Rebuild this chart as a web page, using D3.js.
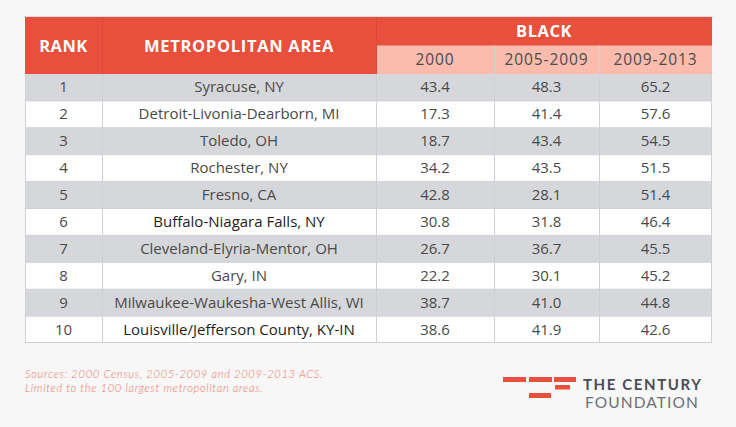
<!DOCTYPE html>
<html><head><meta charset="utf-8">
<script src="https://cdn.jsdelivr.net/npm/d3@7"></script>
<style>
html,body{margin:0;padding:0;background:#f7f7f7;}
svg{display:block;}
</style></head>
<body><svg id="c" width="736" height="427"></svg>
<script>
const ranks = [1,2,3,4,5,6,7,8,9,10];
const areas = ["Syracuse, NY","Detroit-Livonia-Dearborn, MI","Toledo, OH","Rochester, NY","Fresno, CA","Buffalo-Niagara Falls, NY","Cleveland-Elyria-Mentor, OH","Gary, IN","Milwaukee-Waukesha-West Allis, WI","Louisville/Jefferson County, KY-IN"];
const v2000 = [43.4,17.3,18.7,34.2,42.8,30.8,26.7,22.2,38.7,38.6];
const v0509 = [48.3,41.4,43.4,43.5,28.1,31.8,36.7,30.1,41.0,41.9];
const v0913 = [65.2,57.6,54.5,51.5,51.4,46.4,45.5,45.2,44.8,42.6];
const periods = ["2000","2005-2009","2009-2013"];
const groupTitle = "BLACK";
const headRank = "RANK", headArea = "METROPOLITAN AREA";
const notes = ["Sources: 2000 Census,  2005-2009 and 2009-2013 ACS.","Limited to the 100 largest metropolitan areas."];

const svg = d3.select("#c");
const red = "#e94f3d", salmon = "#fbbcae", grayRow = "#d6d7db", grid = "#d0d1d5", txt = "#4a4a4a";
const font = "'Open Sans', sans-serif";
const lato = "Lato, sans-serif";

// column edges
const colEdges = [25,102,376,494,599,712];
const topY = 17, bandSplit = 45.5, headBottom = 74, bottomY = 343;
const y = d3.scaleBand().domain(ranks).range([headBottom, bottomY]).padding(0);

// header
svg.append("rect").attr("x",25).attr("y",topY).attr("width",712-25).attr("height",headBottom-topY).attr("fill",red);
svg.append("rect").attr("x",colEdges[2]).attr("y",bandSplit).attr("width",712-colEdges[2]).attr("height",headBottom-bandSplit).attr("fill",salmon);

// rows
const rows = ranks.map((r,i)=>({rank:r, area:areas[i], vals:[v2000[i],v0509[i],v0913[i]]}));
svg.selectAll("rect.row").data(rows).enter().append("rect").attr("class","row")
  .attr("x",25).attr("y",d=>y(d.rank)).attr("width",712-25).attr("height",y.bandwidth())
  .attr("fill",(d,i)=> i%2===0 ? grayRow : "#ffffff");

// grid lines
const g = svg.append("g").attr("stroke",grid).attr("stroke-width",1).attr("fill","none");
ranks.slice(1).forEach(r=> g.append("line").attr("x1",25).attr("x2",712).attr("y1",y(r)).attr("y2",y(r)));
g.append("line").attr("x1",25).attr("x2",712).attr("y1",bottomY-0.5).attr("y2",bottomY-0.5);
g.append("line").attr("x1",25.5).attr("x2",25.5).attr("y1",headBottom).attr("y2",bottomY);
g.append("line").attr("x1",711.5).attr("x2",711.5).attr("y1",headBottom).attr("y2",bottomY);
[1,2].forEach(k=> g.append("line").attr("x1",colEdges[k]+0.5).attr("x2",colEdges[k]+0.5).attr("y1",headBottom).attr("y2",bottomY));
[3,4].forEach(k=> g.append("line").attr("x1",colEdges[k]+0.5).attr("x2",colEdges[k]+0.5).attr("y1",bandSplit).attr("y2",bottomY));
// header separators (subtle)
svg.append("line").attr("x1",colEdges[1]+0.5).attr("x2",colEdges[1]+0.5).attr("y1",topY).attr("y2",headBottom).attr("stroke","#d7493a");
svg.append("line").attr("x1",colEdges[2]+0.5).attr("x2",colEdges[2]+0.5).attr("y1",topY).attr("y2",headBottom).attr("stroke","#d7493a");
svg.append("line").attr("x1",24).attr("x2",713).attr("y1",topY-0.5).attr("y2",topY-0.5).attr("stroke","#dcdcdc");

const mid = k => (colEdges[k]+colEdges[k+1])/2;

// header texts
svg.append("text").attr("x",mid(0)).attr("y",(topY+headBottom)/2+6).attr("text-anchor","middle")
  .attr("font-family",font).attr("font-weight",700).attr("font-size",16.5).attr("letter-spacing",0.5).attr("fill","#fff").text(headRank);
svg.append("text").attr("x",mid(1)).attr("y",(topY+headBottom)/2+6).attr("text-anchor","middle")
  .attr("font-family",font).attr("font-weight",700).attr("font-size",16.5).attr("letter-spacing",0.7).attr("fill","#fff").text(headArea);
svg.append("text").attr("x",(colEdges[2]+712)/2).attr("y",(topY+bandSplit)/2+6).attr("text-anchor","middle")
  .attr("font-family",font).attr("font-weight",700).attr("font-size",16.5).attr("letter-spacing",0.5).attr("fill","#fff").text(groupTitle);
svg.selectAll("text.per").data(periods).enter().append("text").attr("class","per")
  .attr("x",(d,i)=>mid(i+2)).attr("y",(bandSplit+headBottom)/2+5.5).attr("text-anchor","middle")
  .attr("font-family",font).attr("font-size",15.5).attr("letter-spacing",0.9).attr("fill",txt).text(d=>d);

// body text
const darker = new Set([5,9]);
const rowG = svg.selectAll("g.r").data(rows).enter().append("g").attr("class","r")
  .attr("transform",d=>`translate(0,${y(d.rank)+y.bandwidth()/2+5})`)
  .attr("font-family",font).attr("font-size",15).attr("text-anchor","middle");
rowG.append("text").attr("x",mid(0)).attr("fill",txt).text(d=>d.rank);
rowG.append("text").attr("x",mid(1)).attr("fill",(d,i)=>darker.has(i)?"#1e1e1e":txt).text(d=>d.area);
[0,1,2].forEach(k=> rowG.append("text").attr("x",mid(k+2)).attr("fill",txt).text(d=>d3.format(".1f")(d.vals[k])));

// notes
svg.selectAll("text.note").data(notes).enter().append("text").attr("class","note")
  .attr("x",25).attr("y",(d,i)=>378+i*13.5).attr("font-family",lato).attr("font-style","italic").attr("font-weight",300)
  .attr("font-size",11.2).attr("letter-spacing",0.65).attr("fill","#f07362").text(d=>d);

// logo
const logo = svg.append("g").attr("fill",red);
[[503,377,23,5],[529,377,23,5],[554,377,22,5],[555,385,15,4.5],[529,393,22,5]].forEach(b=>
  logo.append("rect").attr("x",b[0]).attr("y",b[1]).attr("width",b[2]).attr("height",b[3]));
svg.append("text").attr("x",583).attr("y",389.5).attr("font-family",lato).attr("font-weight",700)
  .attr("font-size",15).attr("letter-spacing",1.6).attr("fill","#4a4d55").text("THE CENTURY");
svg.append("text").attr("x",585).attr("y",408.3).attr("font-family",lato).attr("font-weight",400)
  .attr("font-size",15.5).attr("letter-spacing",1.1).attr("fill","#6d7077").text("FOUNDATION");
</script></body></html>
